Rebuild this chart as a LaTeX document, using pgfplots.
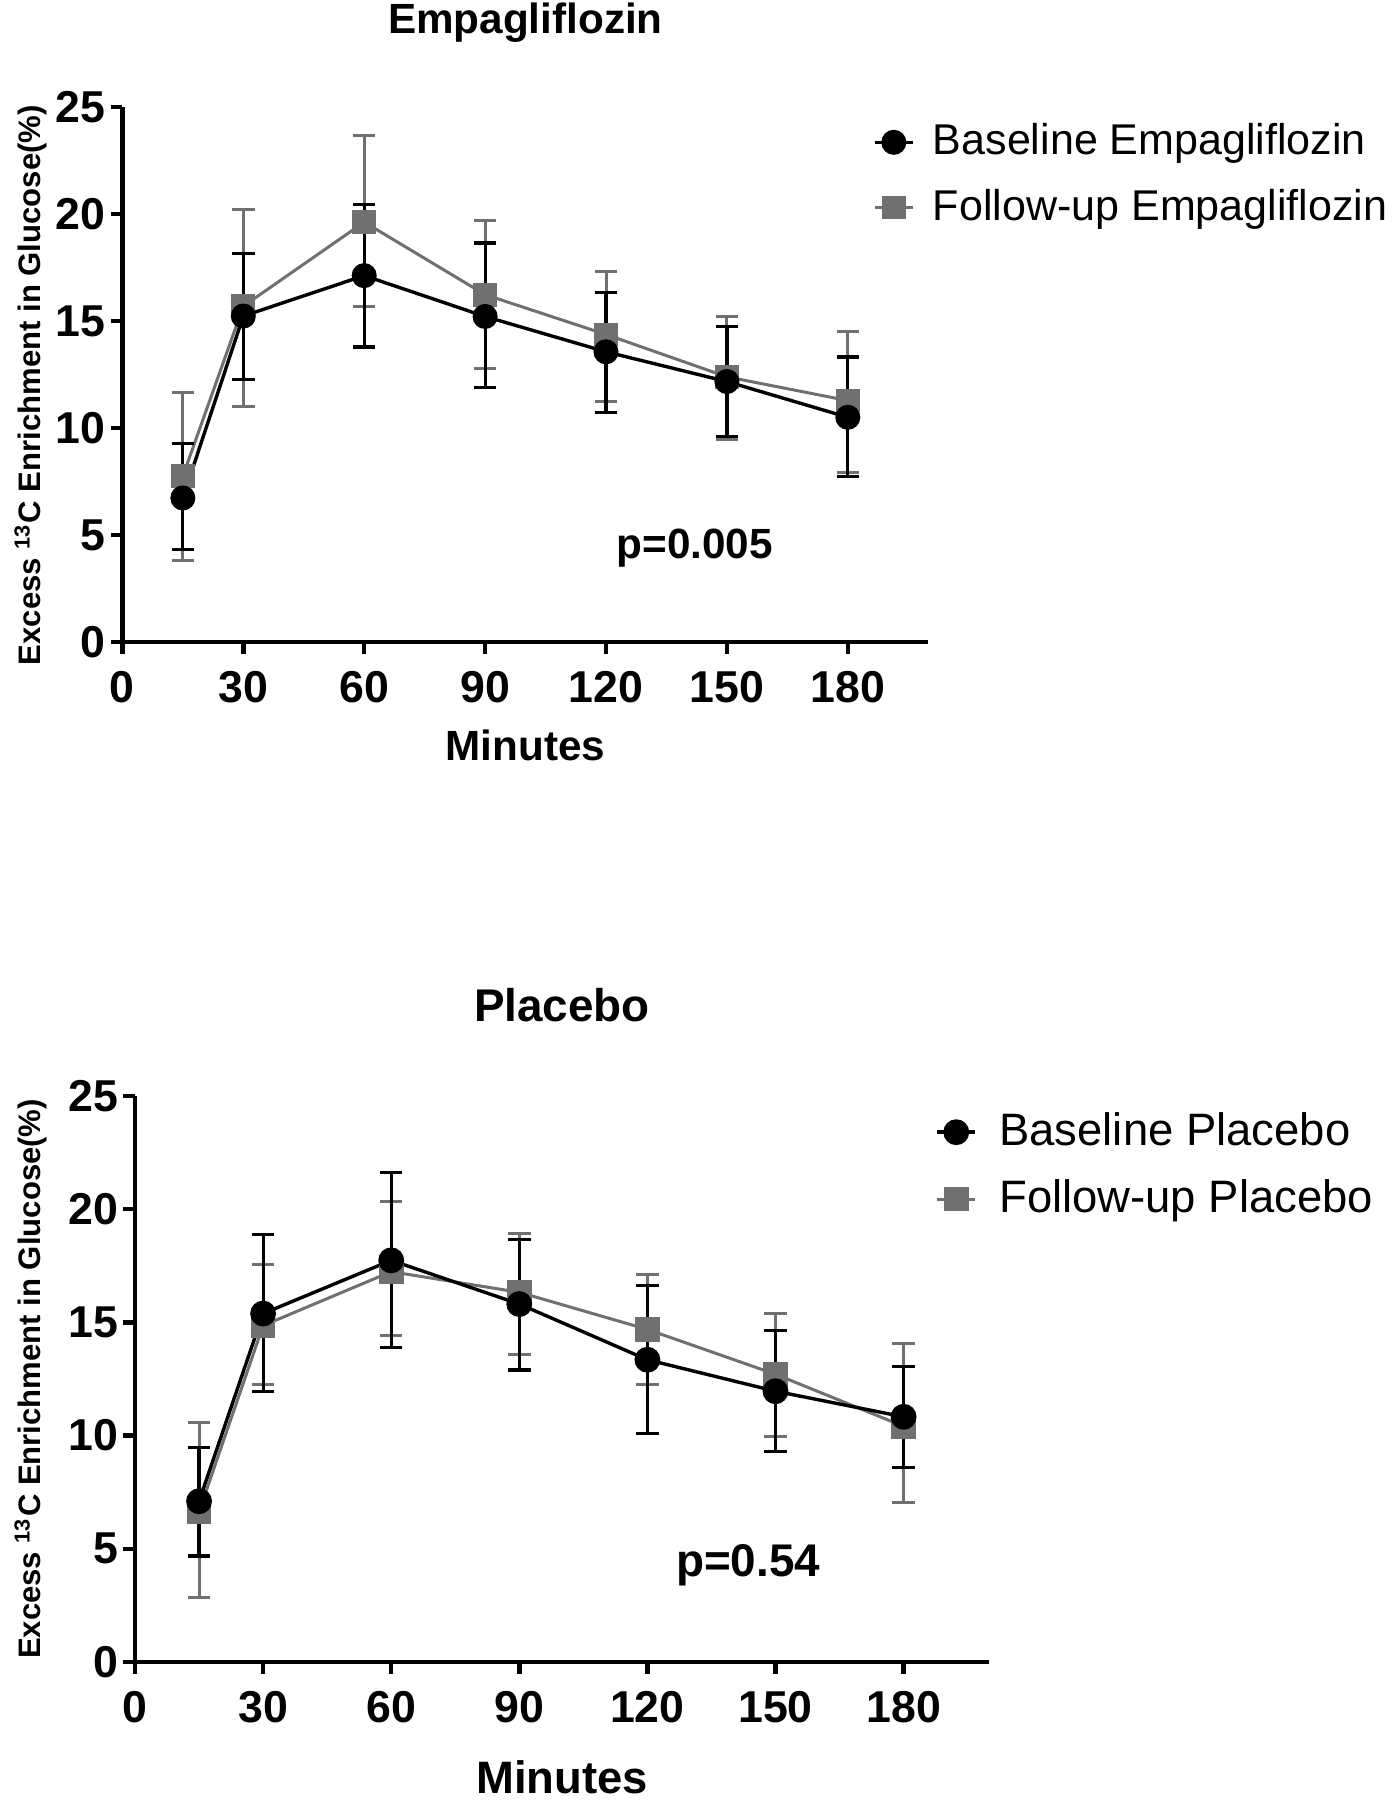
\documentclass[border=0pt]{standalone}
\usepackage{fontspec}
\setmainfont{Liberation Sans}
\usepackage{pgfplots}
\pgfplotsset{compat=1.18}
\definecolor{fgray}{RGB}{112,112,112}

\pgfplotsset{
  mystyle/.style={
    scale only axis,
    axis lines*=left,
    axis line style={line width=1.2bp, -},
    xmin=0, xmax=200, ymin=0, ymax=25,
    xtick={0,30,60,90,120,150,180},
    ytick={0,5,10,15,20,25},
    tick align=outside,
    major tick length=2.9bp,
    tick style={line width=1.1bp, black},
    tick label style={font=\fontsize{11.2}{13}\selectfont\bfseries},
    yticklabel style={xshift=2.2bp},
    xticklabel style={yshift=-0.8bp},
    /pgf/number format/assume math mode=true,
    xlabel style={font=\fontsize{10.6}{12}\selectfont\bfseries, anchor=center},
    ylabel style={font=\fontsize{7.8}{9}\selectfont\bfseries, anchor=center},
    clip=false,
    legend style={draw=none, fill=none, font=\fontsize{10.8}{13}\selectfont, anchor=north west, row sep=3bp},
    /tikz/every odd column/.append style={column sep=2.6bp},
    legend cell align=left,
    reverse legend,
    legend image code/.code={
      \draw[mark repeat=2,mark phase=2] plot coordinates {(0bp,0bp) (4.75bp,0bp) (9.5bp,0bp)};
    },
  },
  blk/.style={black, line width=0.85bp, mark=*, mark size=#1, mark options={solid, fill=black},
    error bars/.cd, y dir=both, y explicit, error mark=-,
    error bar style={line width=0.8bp, black},
    error mark options={line width=0.8bp, black, mark size=2.8bp, rotate=90}},
  gry/.style={fgray, line width=0.75bp, mark=square*, mark size=#1, mark options={solid, fill=fgray, draw=fgray},
    error bars/.cd, y dir=both, y explicit, error mark=-,
    error bar style={line width=0.75bp, fgray},
    error mark options={line width=0.75bp, fgray, mark size=2.8bp, rotate=90}},
}

\begin{document}
\begin{tikzpicture}
\path[use as bounding box] (0,0) rectangle (349.75bp,450bp);

\begin{axis}[mystyle,
  at={(30.6bp,289.5bp)}, anchor=south west,
  width=201.5bp, height=133.75bp,
  xlabel={Minutes},
  ylabel={Excess \textsuperscript{13}C Enrichment in Glucose(\%)},
  xlabel style={at={(axis description cs:0.5,-0.194)}},
  ylabel style={at={(axis description cs:-0.1134,0.48)}},
  legend style={at={(axis description cs:0.9156,1.0)}},
]
\addplot[gry=2.6bp] coordinates {
 (15,7.75) += (0,3.93) -= (0,3.95)
 (30,15.69) += (0,4.54) -= (0,4.69)
 (60,19.62) += (0,4.04) -= (0,3.93)
 (90,16.23) += (0,3.45) -= (0,3.47)
 (120,14.37) += (0,2.93) -= (0,3.13)
 (150,12.39) += (0,2.82) -= (0,2.93)
 (180,11.28) += (0,3.24) -= (0,3.34)
};
\addlegendentry{Follow-up Empagliflozin}
\addplot[blk=2.7bp] coordinates {
 (15,6.73) += (0,2.54) -= (0,2.41)
 (30,15.23) += (0,2.91) -= (0,2.97)
 (60,17.12) += (0,3.34) -= (0,3.34)
 (90,15.21) += (0,3.43) -= (0,3.32)
 (120,13.56) += (0,2.78) -= (0,2.84)
 (150,12.17) += (0,2.57) -= (0,2.56)
 (180,10.50) += (0,2.82) -= (0,2.78)
};
\addlegendentry{Baseline Empagliflozin}
\node[font=\fontsize{10.6}{12}\selectfont\bfseries] at (axis cs:142,4.4) {p=0.005};
\node[font=\fontsize{10.6}{12}\selectfont\bfseries] at (axis description cs:0.5,1) [yshift=21bp] {Empagliflozin};
\end{axis}

\begin{axis}[mystyle,
  at={(33.75bp,34.5bp)}, anchor=south west,
  width=213.5bp, height=141.5bp,
  xlabel={Minutes},
  ylabel={Excess \textsuperscript{13}C Enrichment in Glucose(\%)},
  xlabel style={at={(axis description cs:0.5,-0.203)}, font=\fontsize{11.4}{13}\selectfont\bfseries},
  ylabel style={at={(axis description cs:-0.1218,0.5)}},
  legend style={at={(axis description cs:0.9225,1.0)}, font=\fontsize{11.4}{13}\selectfont},
  /tikz/every odd column/.append style={column sep=3.6bp},
]
\addplot[gry=2.7bp] coordinates {
 (15,6.64) += (0,3.94) -= (0,3.80)
 (30,14.86) += (0,2.68) -= (0,2.60)
 (60,17.24) += (0,3.10) -= (0,2.84)
 (90,16.33) += (0,2.60) -= (0,2.76)
 (120,14.69) += (0,2.43) -= (0,2.43)
 (150,12.71) += (0,2.68) -= (0,2.76)
 (180,10.41) += (0,3.64) -= (0,3.35)
};
\addlegendentry{Follow-up Placebo}
\addplot[blk=2.8bp] coordinates {
 (15,7.10) += (0,2.39) -= (0,2.42)
 (30,15.39) += (0,3.49) -= (0,3.43)
 (60,17.74) += (0,3.87) -= (0,3.84)
 (90,15.81) += (0,2.85) -= (0,2.91)
 (120,13.35) += (0,3.27) -= (0,3.24)
 (150,11.96) += (0,2.68) -= (0,2.67)
 (180,10.83) += (0,2.23) -= (0,2.23)
};
\addlegendentry{Baseline Placebo}
\node[font=\fontsize{11.5}{13}\selectfont\bfseries] at (axis cs:143.6,4.26) {p=0.54};
\node[font=\fontsize{11.5}{13}\selectfont\bfseries] at (axis description cs:0.5,1) [yshift=22.75bp] {Placebo};
\end{axis}
\end{tikzpicture}
\end{document}
